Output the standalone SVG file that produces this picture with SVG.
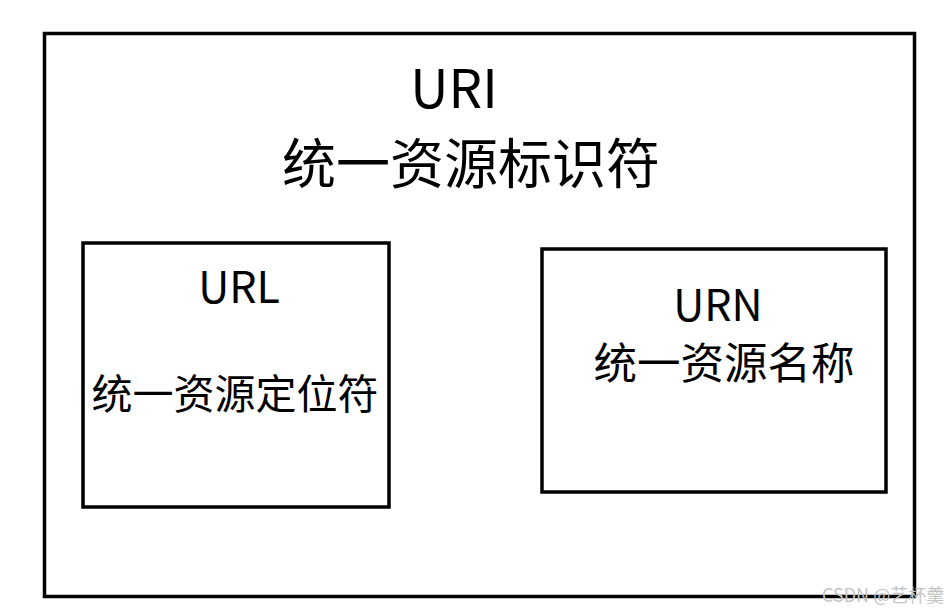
<svg xmlns="http://www.w3.org/2000/svg" width="952" height="613" viewBox="0 0 952 613">
<style>
.box{fill:none;stroke:#000;stroke-width:3.5}
.t{font-family:"Noto Sans CJK SC","Noto Sans",sans-serif;fill:#000;text-anchor:middle}
.wm{font-family:"Noto Sans CJK SC","Liberation Sans",sans-serif;fill:#c4c4c4;font-size:18px}
</style>
<rect width="952" height="613" fill="#fff"/>
<g id="uri">
<rect class="box" x="44.5" y="33.5" width="870" height="563"/>
<text class="t" x="454" y="108" font-size="53">URI</text>
<text class="t" x="471" y="184" font-size="54">统一资源标识符</text>
</g>
<g id="url">
<rect class="box" x="83" y="243" width="306" height="264"/>
<text class="t" x="239" y="303" font-size="43">URL</text>
<text class="t" x="235" y="409" font-size="41">统一资源定位符</text>
</g>
<g id="urn">
<rect class="box" x="542" y="249" width="344" height="243"/>
<text class="t" x="718" y="321" font-size="43">URN</text>
<text class="t" x="724" y="379" font-size="43.5">统一资源名称</text>
</g>
<g id="connectors"></g>
<text class="wm" x="822" y="602">CSDN @艺杯羹</text>
</svg>
